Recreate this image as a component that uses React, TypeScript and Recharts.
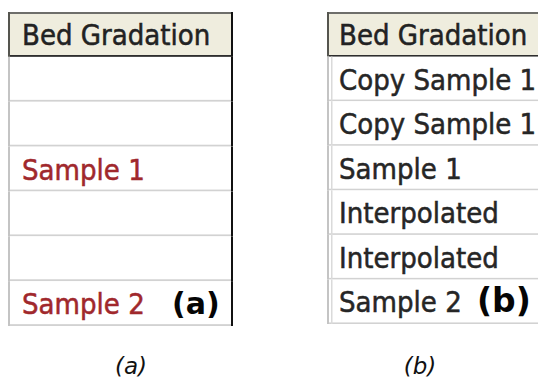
import { BarChart, Bar, XAxis, YAxis } from "recharts";

// Two grid columns captured from a dialog: (a) before, (b) after filling the gaps
const ROW_IDS = [0, 1, 2, 3, 4, 5, 6];
const LABELS_A = ["Bed Gradation", "", "", "Sample 1", "", "", "Sample 2"];
const TAGS_A = ["", "", "", "", "", "", "(a)"];
const LABELS_B = [
  "Bed Gradation",
  "Copy Sample 1",
  "Copy Sample 1",
  "Sample 1",
  "Interpolated",
  "Interpolated",
  "Sample 2",
];
const TAGS_B = ["", "", "", "", "", "", "(b)"];
const CELL_SPAN = [1, 1, 1, 1, 1, 1, 1];
const CAPTIONS = ["(a)", "(b)"];

const FONT = '"DejaVu Sans Condensed", "DejaVu Sans", sans-serif';
const HEADER_BG = "#EFEDDE";
const ROW_LINE = "#D2D2D2";

type CellOpts = {
  textColor: string;
  textDx: number;
  tagDx: number;
  tagSize: number;
  side: "a" | "b";
};

function makeCell(opts: CellOpts) {
  return function Cell(props: any) {
    const { x, y, width, height, payload } = props;
    const header = payload.row === 0;
    const bottom = y + height;
    const color = header ? "#222" : opts.textColor;
    return (
      <g>
        <rect x={x} y={y} width={width} height={height} fill={header ? HEADER_BG : "#fff"} />
        {header ? (
          <>
            <rect x={x} y={y} width={width} height={2} fill="#6E6E6A" />
            <rect x={x} y={bottom - 2} width={width} height={2} fill="#2E2E2E" />
            <rect x={x} y={y} width={2} height={height} fill="#55554F" />
          </>
        ) : (
          <>
            <rect x={x} y={bottom - 2} width={width} height={2} fill={ROW_LINE} />
            <rect x={x} y={y} width={2} height={height} fill="#C4C4C4" />
            {opts.side === "b" && (
              <rect x={x + 4} y={y} width={1.5} height={height} fill="#DADADA" />
            )}
          </>
        )}
        {opts.side === "a" && (
          <rect x={x + width - 2} y={y} width={2} height={height} fill="#111" />
        )}
        <text
          x={x + opts.textDx}
          y={bottom - 12}
          fontFamily={FONT}
          fontSize={29}
          fill={color}
          stroke={color}
          strokeWidth={0.5}
        >
          {payload.label}
        </text>
        {payload.tag && (
          <text
            x={x + opts.tagDx}
            y={bottom - 12}
            fontFamily='"DejaVu Sans", sans-serif'
            fontWeight="bold"
            fontSize={opts.tagSize}
            fill="#050505"
          >
            {payload.tag}
          </text>
        )}
      </g>
    );
  };
}

function Column({
  labels,
  tags,
  width,
  height,
  opts,
}: {
  labels: string[];
  tags: string[];
  width: number;
  height: number;
  opts: CellOpts;
}) {
  const data = ROW_IDS.map((row, i) => ({
    row,
    label: labels[i],
    tag: tags[i],
    span: CELL_SPAN[i],
  }));
  return (
    <BarChart
      width={width}
      height={height}
      data={data}
      layout="vertical"
      margin={{ top: 0, right: 0, bottom: 0, left: 0 }}
      barCategoryGap={0}
    >
      <XAxis type="number" domain={[0, 1]} hide />
      <YAxis type="category" dataKey="row" hide />
      <Bar dataKey="span" isAnimationActive={false} shape={makeCell(opts)} />
    </BarChart>
  );
}

export default function App() {
  return (
    <div
      style={{
        position: "absolute",
        left: 0,
        top: 0,
        width: 538,
        height: 379,
        overflow: "hidden",
        background: "#fff",
      }}
    >
      <div style={{ position: "absolute", left: 8, top: 12 }}>
        <Column
          labels={LABELS_A}
          tags={TAGS_A}
          width={225}
          height={314}
          opts={{ textColor: "#A0282C", textDx: 14, tagDx: 164, tagSize: 30, side: "a" }}
        />
      </div>
      <div style={{ position: "absolute", left: 327, top: 12 }}>
        <Column
          labels={LABELS_B}
          tags={TAGS_B}
          width={240}
          height={312}
          opts={{ textColor: "#262626", textDx: 12, tagDx: 150, tagSize: 33, side: "b" }}
        />
      </div>
      {CAPTIONS.map((c, i) => (
        <div
          key={c}
          style={{
            position: "absolute",
            left: i === 0 ? 131 : 420,
            top: 352,
            transform: "translateX(-50%)",
            fontFamily: '"DejaVu Sans", sans-serif',
            fontStyle: "italic",
            fontSize: 23,
            color: "#111",
            lineHeight: "28px",
          }}
        >
          {c}
        </div>
      ))}
    </div>
  );
}
